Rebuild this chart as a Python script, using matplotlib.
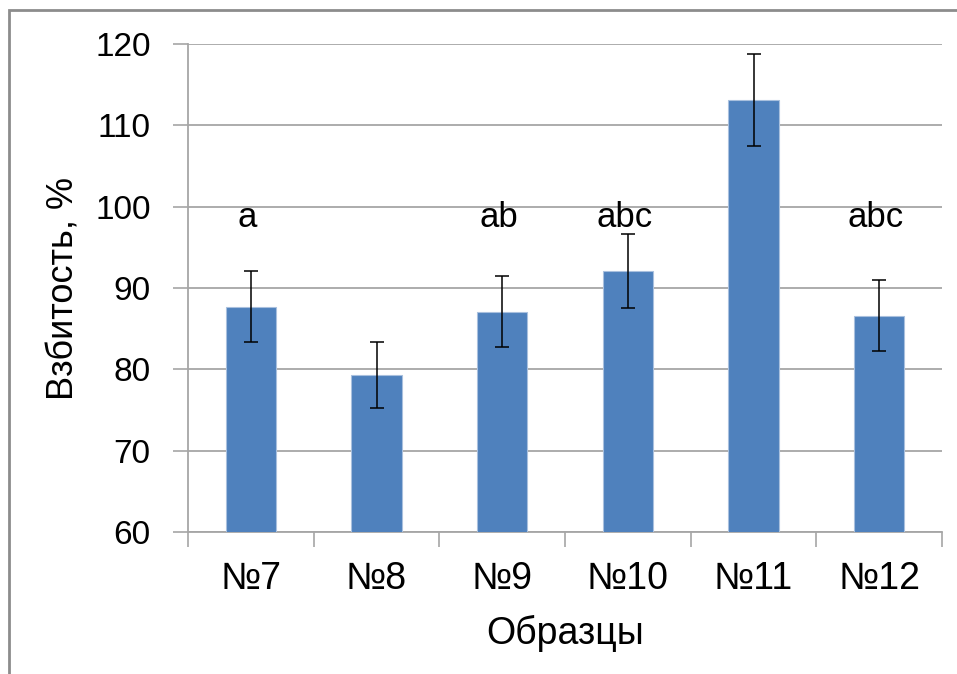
import matplotlib
matplotlib.use("Agg")
import matplotlib.pyplot as plt
from matplotlib.patches import Rectangle
import numpy as np

# Sample data: foam overrun (%) with standard deviation
samples = ["№7", "№8", "№9", "№10", "№11", "№12"]
overrun = [87.7, 79.3, 87.1, 92.1, 113.1, 86.6]
errors = [4.4, 4.0, 4.4, 4.6, 5.7, 4.35]
letters = ["a", "", "ab", "abc", "", "abc"]
y_ticks = [60, 70, 80, 90, 100, 110, 120]

plt.rcParams["font.family"] = ["Liberation Sans", "DejaVu Sans"]

fig = plt.figure(figsize=(9.57, 6.74), dpi=100)
ax = fig.add_axes([188 / 957, 1 - 532 / 674, (942 - 188) / 957, (532 - 44) / 674])

x = np.arange(len(samples))
ax.bar(x, overrun, width=0.4, color="#4F81BD", edgecolor="#A9C0DE",
       linewidth=0.8, zorder=3)
ax.errorbar(x, overrun, yerr=errors, fmt="none", ecolor="black",
            elinewidth=1.1, capsize=5, capthick=1.1, zorder=4)

for xi, lab in zip(x, letters):
    if lab:
        ax.text(xi - 0.03, 97.5, lab, ha="center", va="baseline", fontsize=25,
                color="black", zorder=5)

ax.set_xlim(-0.5, len(samples) - 0.5)
ax.set_ylim(60, 120)
ax.set_yticks(y_ticks)
ax.set_yticklabels([str(v) for v in y_ticks], fontsize=24)

# Category labels at centres, tick marks at the boundaries
ax.set_xticks(x)
ax.set_xticklabels(samples, fontsize=27)
ax.set_xticks(np.arange(len(samples) + 1) - 0.5, minor=True)
ax.tick_params(axis="x", which="major", length=0, pad=21)
ax.tick_params(axis="x", which="minor", length=11, color="#A6A6A6", width=1.2)
ax.tick_params(axis="y", which="major", length=11, color="#A6A6A6",
               width=1.2, pad=16)

ax.yaxis.grid(True, color="#A6A6A6", linewidth=1.3, zorder=0)
ax.set_axisbelow(True)

for side in ("top", "right"):
    ax.spines[side].set_visible(False)
for side in ("left", "bottom"):
    ax.spines[side].set_color("#A6A6A6")
    ax.spines[side].set_linewidth(1.3)

ax.set_ylabel("Взбитость, %", fontsize=26, labelpad=10)
ax.set_xlabel("Образцы", fontsize=27, labelpad=13)

# Outer chart frame
fig.patches.append(Rectangle((9 / 957, -0.1), 1.2, 1 - 10 / 674 + 0.1,
                             transform=fig.transFigure, fill=False,
                             edgecolor="#8C8C8C", linewidth=2))

fig.savefig("out.png", dpi=100)
